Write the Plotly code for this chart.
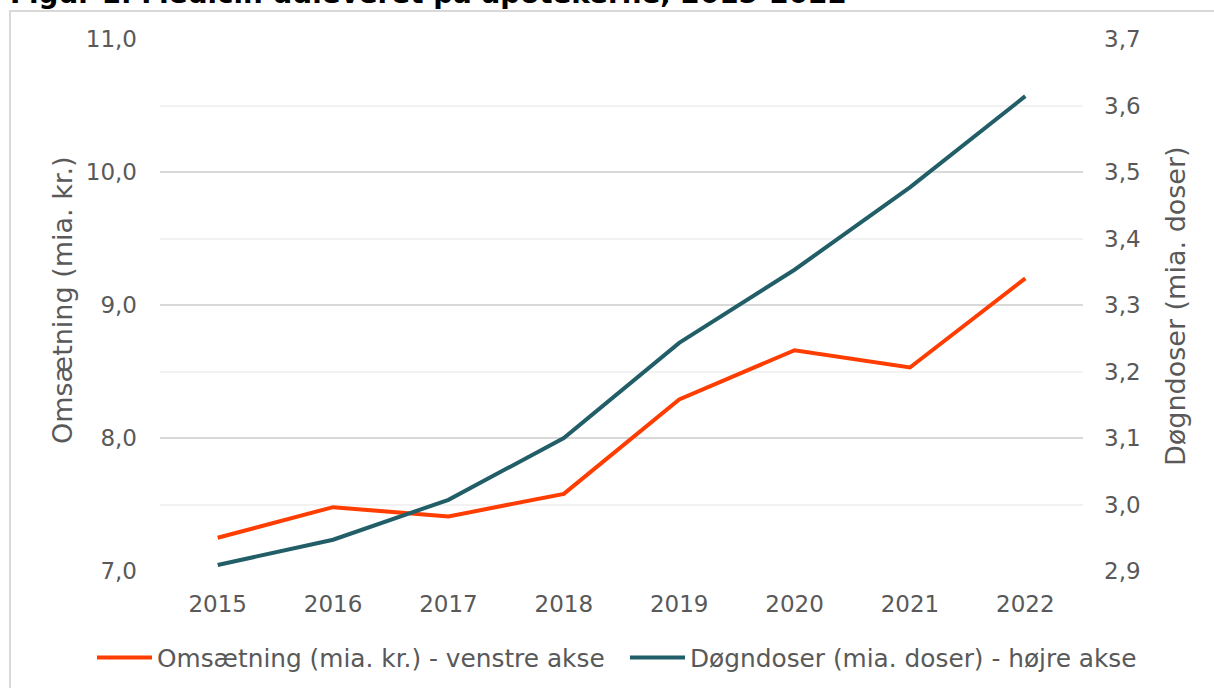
import plotly.graph_objects as go

years = ["2015", "2016", "2017", "2018", "2019", "2020", "2021", "2022"]
omsaetning = [7.25, 7.48, 7.41, 7.58, 8.29, 8.66, 8.53, 9.20]
doegndoser = [2.909, 2.947, 3.007, 3.100, 3.243, 3.353, 3.477, 3.614]

name_oms = "Omsætning (mia. kr.) - venstre akse"
name_dd = "Døgndoser (mia. doser) - højre akse"
title_text = "Figur 1. Medicin udleveret på apotekerne, 2015-2022"
ytitle_left = "Omsætning (mia. kr.)"
ytitle_right = "Døgndoser (mia. doser)"

ORANGE = "#FF3D00"
TEAL = "#215E67"
TXT = "#595959"
FONT = "DejaVu Sans"

W, H = 1214, 688
L, R, T, B = 160, 131, 39, 117
pw, ph = W - L - R, H - T - B

def px_x(x):
    return (x - L) / pw

def px_y(y):
    return (H - B - y) / ph

fig = go.Figure()
fig.add_trace(go.Scatter(x=years, y=omsaetning, name=name_oms, mode="lines",
                         line=dict(color=ORANGE, width=4), yaxis="y", legend="legend"))
fig.add_trace(go.Scatter(x=years, y=doegndoser, name=name_dd, mode="lines",
                         line=dict(color=TEAL, width=4), yaxis="y2", legend="legend2"))

legend_common = dict(orientation="h", yanchor="middle", xanchor="left",
                     font=dict(size=24.8, color=TXT, family=FONT), itemwidth=55,
                     bgcolor="rgba(0,0,0,0)", borderwidth=0)

fig.update_layout(
    width=W, height=H,
    margin=dict(l=L, r=R, t=T, b=B, autoexpand=False),
    paper_bgcolor="white", plot_bgcolor="white",
    separators=",.",
    font=dict(family=FONT, color=TXT, size=23),
    showlegend=True,
    legend=dict(x=px_x(92), y=px_y(658), **legend_common),
    legend2=dict(x=px_x(625), y=px_y(658), **legend_common),
    xaxis=dict(type="category", range=[-0.5, 7.5], showgrid=False, showline=False,
               zeroline=False, automargin=False,
               ticks="", tickfont=dict(size=23, color=TXT), ticklabelstandoff=17),
    yaxis=dict(range=[7, 11], dtick=1, tickformat=".1f", showgrid=True, automargin=False,
               gridcolor="#D9D9D9", gridwidth=2, zeroline=False, showline=False,
               ticks="", tickfont=dict(size=23, color=TXT), ticklabelstandoff=22,
               minor=dict(dtick=0.5, showgrid=True, gridcolor="#F2F2F2", gridwidth=2)),
    yaxis2=dict(range=[2.9, 3.7], dtick=0.1, tickformat=".1f", overlaying="y", side="right",
                showgrid=False, zeroline=False, showline=False, ticks="", automargin=False,
                tickfont=dict(size=23, color=TXT), ticklabelstandoff=20),
    shapes=[dict(type="rect", xref="paper", yref="paper",
                 x0=px_x(10), x1=px_x(1230), y0=px_y(11), y1=px_y(720),
                 line=dict(color="#D9D9D9", width=2), fillcolor="rgba(0,0,0,0)",
                 layer="below")],
    annotations=[
        dict(text="<b>" + title_text + "</b>", xref="paper", yref="paper",
             x=px_x(8), y=px_y(12), xanchor="left", yanchor="bottom", showarrow=False,
             font=dict(size=27.8, color="#000000", family=FONT)),
        dict(text=ytitle_left, xref="paper", yref="paper", x=px_x(62), y=px_y(300),
             xanchor="center", yanchor="middle", textangle=-90, showarrow=False,
             font=dict(size=27, color=TXT, family=FONT)),
        dict(text=ytitle_right, xref="paper", yref="paper", x=px_x(1175), y=px_y(306),
             xanchor="center", yanchor="middle", textangle=-90, showarrow=False,
             font=dict(size=27, color=TXT, family=FONT)),
    ],
)

fig.write_html("out.html", config={"displayModeBar": False},
               post_script="document.body.style.margin='0';document.body.style.overflow='hidden';")
